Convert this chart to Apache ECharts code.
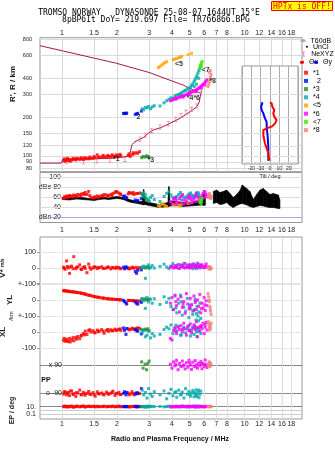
<!DOCTYPE html>
<html><head><meta charset="utf-8">
<script src="https://cdn.jsdelivr.net/npm/echarts@6.0.0/dist/echarts.min.js"></script>
<style>html,body{margin:0;padding:0;background:#fff}#c{width:335px;height:451px}</style>
</head><body><div id="c"></div>
<script>
// ---------- tick values / labels ----------
const freqTicks = [1,1.5,2,3,4,5,6,7,8,10,12,14,16,18];
const freqLabels = ['1','1.5','2','3','4','5','6','7','8','10','12','14','16','18'];
const heightTicks = [80,90,100,120,150,200,300,400,600,800];
const dbeTicks = [20,40,60,80,100];
const dbeLabels = ['dBn 20','40','60','dBe 80','100'];

// ---------- top panel lines ----------
const profF = [0.758,0.90,0.99,1.01,1.42,1.90,2.27,2.36,2.41,2.51,2.79,2.97,3.16,3.44,3.74,4.43,5.02,5.46,5.62,5.72,5.80];
const profR = [88,88,88,94,95,96,99,105,122,129,139,150,159,165,174,196,220,240,258,290,322];
const fxF = [0.758,1.016,1.51,1.99,3.03,3.87,4.60,5.13,5.46,5.69];
const fxR = [716,651,572,523,442,388,355,329,315,308];
const nexF = [1.06,1.31,1.55,1.83,2.21,2.67,2.85,3.10,3.44,3.82,4.20,4.48,4.77,5.12,5.46];
const nexR = [90,90,92,93,94,135,145,157,168,178,193,206,218,230,244];

// ---------- unclassified amplitude band (dBe panel) ----------
const noiseF = [1.00,1.10,1.20,1.30,1.40,1.50,1.60,1.70,1.80,1.90,2.00,2.10,2.20,2.30,2.40,2.50,2.60,2.75,2.80,2.84,3.00,3.20,3.40,3.60,3.80,3.85,3.90,4.20,4.60,5.00,5.40,5.80,6.00,6.10,6.25,6.73,7.03,7.32,7.64,7.97,8.31,8.66,9.04,9.43,9.70,10.26,10.69,11.15,11.63,12.13,12.65,13.19,13.76,14.34,15.28,15.60];
const noiseLo = [56,55,57,56,55,54,56,57,56,57,58,57,55,52,50,49,48,46,45,46,44,42,40,41,42,42,43,44,42,43,44,45,44,45,null,48,50,46,47,50,44,40,44,47,48,45,42,40,42,44,43,41,40,40,38,38];
const noiseHi = [60,59,61,60,58,58,60,61,59,61,62,61,59,57,55,54,53,52,76,52,50,48,46,48,50,82,52,52,50,51,52,53,74,58,null,72,75,70,72,75,68,60,66,74,85,78,72,56,66,75,78,72,66,68,65,55];

// ---------- echoes: [f MHz, R' km, dB, V* m/s, YL km, XL km, PP deg, EP deg] ----------
const echo1 = [
[1.02,92,58,5,58,-52,-95,10],[1.03,95,61,-2,60,-40,-82,13],[1.04,91,61,-8,56,-58,-80,14],[1.06,93,63,45,57,-45,-100,8],
[1.07,96,60,10,54,-55,-90,11],[1.08,92,62,0,55,-60,-85,12],[1.10,94,64,-34,54,-40,-105,9],[1.11,91,62,6,52,-62,-76,12],
[1.13,93,63,12,52,-48,-75,15],[1.15,96,61,-4,50,-35,-98,10],[1.16,94,65,72,51,-55,-92,7],[1.19,93,64,-5,49,-35,-110,11],
[1.20,96,62,3,47,-45,-86,14],[1.22,95,66,8,47,-28,-88,13],[1.25,94,65,20,45,-42,-70,9],[1.27,97,63,-6,43,-25,-100,12],
[1.28,95,67,-10,42,-20,-98,12],[1.31,94,68,3,40,-10,-84,16],[1.33,97,66,9,38,-18,-94,10],[1.34,95,70,-3,36,5,-102,8],
[1.37,96,66,-30,33,-15,-90,11],[1.40,95,72,25,30,10,-78,14],[1.42,98,64,4,29,14,-96,12],[1.44,96,60,-8,27,0,-96,10],
[1.48,96,59,0,24,8,-86,12],[1.50,99,61,7,22,-4,-100,13],[1.52,97,61,6,20,-5,-108,9],[1.56,102,63,-4,18,12,-80,13],
[1.58,97,60,3,17,2,-92,10],[1.60,98,62,2,16,6,-94,11],[1.65,98,64,8,13,15,-88,10],[1.68,101,62,-2,12,5,-96,12],
[1.70,99,66,-3,11,-8,-100,14],[1.75,98,65,0,9,10,-82,9],[1.78,101,63,6,8,16,-92,11],[1.80,99,64,5,7,4,-96,12],
[1.85,99,66,-6,6,14,-90,10],[1.88,102,64,2,5,9,-84,13],[1.90,100,68,3,5,8,-76,13],[1.95,99,70,-2,4,18,-104,9],
[1.98,102,72,5,3,10,-90,11],[2.00,100,71,0,3,12,-92,11],[2.05,101,69,4,2,16,-84,15],[2.08,103,67,-3,1,20,-98,10],
[2.10,100,66,-5,1,10,-98,10],[2.30,101,67,2,-2,20,-88,12],[2.33,104,70,-6,-3,14,-100,9],[2.36,99,69,-3,-3,15,-94,9],
[2.42,102,68,6,-4,24,-80,11],[2.45,106,70,0,-4,19,-92,12],[2.48,104,66,0,-5,18,-100,13],[2.55,106,68,4,-5,22,-90,10],
[2.60,105,68,-4,-6,26,-86,10],[2.66,108,69,3,-7,22,-92,12]
];
const echo2 = [
[2.17,214,62,5,-2,25,-90,10],[2.20,213,63,-5,-10,10,-80,12],[2.24,215,60,8,-18,-15,-100,9],[2.26,214,59,0,-25,22,-85,11],
[2.52,210,55,-22,-12,15,-95,10],[2.56,212,52,-34,-20,8,-88,13],[2.60,214,54,-15,-26,5,-92,9],[2.72,223,58,-12,-15,-12,-60,11]
];
const echo3 = [
[2.73,97,68,2,5,15,110,10],[2.78,99,66,6,2,10,70,12],[2.85,98,60,0,8,18,95,9],
[2.90,100,56,4,0,12,60,11],[2.95,99,54,8,3,20,100,10],[3.00,98,52,-2,6,8,115,13]
];
const echo4 = [
[2.75,232,62,5,10,-5,-70,10],[2.80,228,70,12,-5,12,-100,12],[2.86,238,66,-66,-52,-30,-85,8],[2.92,236,58,8,15,-20,-120,14],
[2.98,242,54,20,-12,5,-60,9],[3.05,232,60,3,5,-37,-95,11],[3.12,240,64,15,-20,-10,-110,13],[3.20,245,56,0,8,-25,-80,10],
[3.44,244,52,10,-28,-15,-100,12],[3.62,258,62,25,20,15,-75,9],[3.74,268,68,6,-15,30,-125,11],[3.85,275,72,-4,10,20,-90,14],
[3.95,282,65,12,-40,44,-65,8],[4.05,280,60,28,-60,-10,-105,12],[4.15,292,58,4,25,25,-85,10],[4.25,297,62,15,-80,5,-115,13],
[4.35,300,66,-2,-20,35,-70,9],[4.45,305,70,20,30,-20,-100,11],[4.55,312,64,8,-95,15,-82,15],[4.65,318,61,30,-45,30,-120,10],
[4.75,322,59,0,-70,-5,-60,12],[4.85,330,63,12,10,20,-95,9],[4.95,336,67,22,-110,40,-78,13],[5.05,340,69,5,-55,-25,-108,10],
[5.12,352,65,18,-30,10,-88,12],[5.20,362,62,-5,-90,28,-72,11],[5.28,375,60,26,-65,-15,-112,14],[5.35,390,64,10,5,35,-92,9],
[5.42,405,68,2,-125,18,-68,12],[5.48,420,70,16,-40,-28,-102,10],[5.55,440,66,8,-100,22,-84,13],[5.62,460,63,24,-75,5,-118,11],
[5.69,478,60,0,-20,30,-96,9],[5.75,495,58,12,-115,-10,-76,12],[5.00,320,57,14,-35,12,-98,10],[5.30,345,61,20,-60,38,-86,11],
[5.45,360,65,-3,-85,0,-110,14],[5.60,400,69,10,-130,25,-70,9],[4.50,295,55,18,-10,-18,-95,12],[4.20,282,59,6,-50,42,-80,10]
];
const echo6 = [
[3.92,268,52,5,-20,-40,95,10],[4.00,271,48,10,15,-50,70,12],[4.08,274,56,0,-60,10,110,9],[4.16,278,60,15,30,25,85,11],
[4.24,280,54,4,-35,-10,120,13],[4.32,283,50,22,5,30,60,10],[4.40,286,58,-3,-75,15,100,12],[4.48,288,62,8,20,40,80,9],
[4.56,290,66,12,-45,0,115,14],[4.64,293,55,2,-10,55,90,11],[4.72,296,49,28,-83,20,65,10],[4.80,300,53,6,40,-20,105,12],
[4.88,303,59,14,-25,35,75,9],[4.96,307,64,0,-55,10,120,13],[5.04,310,60,18,10,50,88,11],[5.12,313,56,5,-30,-5,62,10],
[5.20,316,51,24,-70,25,108,12],[5.28,319,57,9,25,45,82,14],[5.36,322,63,2,-15,15,118,9],[5.44,325,67,16,-60,64,92,11],
[5.52,330,61,30,0,-30,70,10],[5.60,335,55,7,-40,30,102,12],[5.68,340,50,13,35,5,86,13],[5.76,346,58,4,-80,40,112,10],
[5.84,352,64,20,-20,20,66,11],[5.92,358,68,8,-50,55,98,9],[6.00,365,72,1,15,-10,80,12],[6.08,374,70,11,-65,30,122,10],
[6.16,382,66,25,-5,60,90,13],[6.22,390,62,5,-35,12,74,11],[4.20,276,47,6,-10,5,96,10],[4.60,286,46,15,-25,20,84,12],
[5.00,300,48,3,-45,8,104,11],[5.40,315,52,10,-5,28,78,9],[5.80,335,54,18,-55,35,100,12],[6.05,355,60,7,-30,45,94,10]
];
const echo8 = [
[6.30,345,60,3,40,50,95,10],[6.35,360,62,-5,20,64,85,12],[6.40,375,66,8,-10,30,105,9],[6.45,390,64,0,-40,45,80,11],
[6.50,410,58,5,-70,20,100,13],[6.55,430,62,-3,-90,55,90,10],[6.40,445,68,6,0,12,110,12],[6.48,460,60,-8,-55,35,88,11]
];
// echoes without drift data: [f MHz, R' km, dB]
const echo5 = [
[3.37,484,44],[3.44,495,42],[3.52,507,46],[3.59,518,48],[3.66,530,44],[3.74,538,42],[4.06,558,46],
[4.15,565,44],[4.25,570,48],[4.35,578,45],[4.45,584,43],[4.52,590,47],[4.90,610,48],[5.12,625,50]
];
const echo7 = [[5.69,480,50],[5.72,495,54],[5.75,510,56],[5.80,525,52],[5.85,540,58],[5.78,500,48]];

// ---------- class annotations in the height panel ----------
const labF = [1.90,2.56,2.94,4.82,4.15,5.82,6.41];
const labR = [94,200,93,280,518,464,384];
const labT = ['*1','2','*3','*4*6','<5','<7','*8'];

// ---------- tilt inset ----------
const thxT = [-0.7,-1.8,-3.6,-5.4,-7.1,-7.1,-3.6,1.8,5.4,7.1,4.6,3.5,4.6,2.5,1.8,0];
const thxH = [92,105,115,125,145,159,164,169,179,190,202,214,227,241,256,261];
const thyT = [-1.8,-1.8,-2.5,-3.6,-3.6,-5.4,-7.1,-8.9,-9.6,-8.3,-8.9];
const thyH = [92,118,141,169,184,196,214,227,241,256,261];

// ---------- styling ----------
const FMIN = 0.758, FMAX = 20.6;
const CLS = [
  {name:'*1', color:'#ff0000', rows:echo1, drift:true},
  {name:'2',  color:'#0000ff', rows:echo2, drift:true},
  {name:'*3', color:'#238b23', rows:echo3, drift:true},
  {name:'*4', color:'#00a9a9', rows:echo4, drift:true},
  {name:'<5', color:'#ffa500', rows:echo5, drift:false},
  {name:'*6', color:'#ff00ff', rows:echo6, drift:true},
  {name:'<7', color:'#33ee00', rows:echo7, drift:false},
  {name:'*8', color:'#f08080', rows:echo8, drift:true}
];
const FONT = 'Liberation Sans';
const lt = {fontSize:7, color:'#000', lineHeight:7, fontFamily:FONT};

function fAxis(i){ return {type:'log', logBase:10, gridIndex:i, min:FMIN, max:FMAX, show:false}; }
function pts(rows, col){ return rows.map(r => [r[0], r[col]]); }
function sc(c, gi, data){
  return {type:'scatter', name:c.name, xAxisIndex:gi, yAxisIndex:gi, data:data, symbol:'rect', symbolSize:3,
          itemStyle:{color:c.color}, z:3, silent:true, clip:false, animation:false};
}
const baseGrid = {left:40, width:262, outerBoundsMode:'none'};

const series = [];
// top panel grid lines + tick labels
series.push({type:'scatter', xAxisIndex:0, yAxisIndex:0, data:[], silent:true,
  markLine:{z:1, silent:true, symbol:'none', animation:false,
    lineStyle:{color:'#d9d9d9', width:1, type:'solid'},
    label:{show:true, formatter:'{b}', fontSize:7, color:'#222', distance:1, fontFamily:FONT},
    data: freqTicks.map((v,i)=>({xAxis:v, name:freqLabels[i], label:{position:'end'}}))
      .concat(heightTicks.map(v=>({yAxis:v, name:String(v), label:{position:'start', fontSize:5.5, distance:8}})))}});
series.push({type:'line', name:'T60dB', xAxisIndex:0, yAxisIndex:0, data:[], symbol:'none', lineStyle:{color:'#aaaaaa', width:1}, itemStyle:{color:'#aaaaaa'}});
series.push({type:'line', xAxisIndex:0, yAxisIndex:0, data:fxF.map((f,i)=>[f,fxR[i]]), symbol:'none', silent:true, z:2, lineStyle:{color:'#a8154a', width:1}});
series.push({type:'line', xAxisIndex:0, yAxisIndex:0, data:profF.map((f,i)=>[f,profR[i]]), symbol:'none', silent:true, z:2, lineStyle:{color:'#a8154a', width:1}});
series.push({type:'scatter', name:'NeXYZ', xAxisIndex:0, yAxisIndex:0, data:nexF.map((f,i)=>[f,nexR[i]]), silent:true, z:2,
  symbol:'path://M0,0H4V1H2.5V5H4V6H0V5H1.5V1H0Z', symbolSize:[3,5], itemStyle:{color:'#f0608f'}});

// dBe panel guides
series.push({type:'scatter', xAxisIndex:1, yAxisIndex:1, data:[], silent:true,
  markLine:{z:1, silent:true, symbol:'none', animation:false,
    lineStyle:{color:'#dddddd', width:1, type:'solid'},
    label:{show:false},
    data: dbeTicks.map(v=>({yAxis:v, lineStyle:{color: v===20 ? '#aaaadd' : '#dddddd'}}))
      .concat(freqTicks.map((v,i)=>({xAxis:v, name:freqLabels[i], lineStyle:{color:'rgba(0,0,0,0)'},
        label:{show:true, position:'start', formatter:'{b}', distance:4, fontSize:7, color:'#222', fontFamily:FONT}})))}});
series.push({type:'custom', name:'UnCl', xAxisIndex:1, yAxisIndex:1, silent:true, z:2, itemStyle:{color:'#000'},
  data: noiseF.map((f,i)=>[f, noiseLo[i], noiseHi[i]]),
  renderItem: function(params, api){
    const i = params.dataIndex;
    if (i >= noiseF.length-1 || noiseLo[i]==null || noiseLo[i+1]==null) return null;
    const p = [api.coord([noiseF[i], noiseLo[i]]), api.coord([noiseF[i+1], noiseLo[i+1]]),
               api.coord([noiseF[i+1], noiseHi[i+1]]), api.coord([noiseF[i], noiseHi[i]])];
    return {type:'polygon', shape:{points:p}, style:{fill:'#000', stroke:'#000', lineWidth:0.6}};
  }});

// lower panel guides
series.push({type:'scatter', xAxisIndex:2, yAxisIndex:2, data:[], silent:true,
  markLine:{z:1, silent:true, symbol:'none', animation:false,
    lineStyle:{color:'#dddddd', width:1, type:'solid'},
    label:{show:true, position:'start', formatter:'{b}', distance:2, fontSize:7, color:'#222', fontFamily:FONT},
    data: freqTicks.map((v,i)=>({xAxis:v, name:freqLabels[i]}))}});

// echo classes
CLS.forEach(c => {
  series.push(sc(c, 0, pts(c.rows,1)));
  series.push(sc(c, 1, pts(c.rows,2)));
  if (c.drift){
    series.push(sc(c, 3, pts(c.rows,3)));
    series.push(sc(c, 4, pts(c.rows,4)));
    series.push(sc(c, 5, pts(c.rows,5)));
    series.push(sc(c, 6, pts(c.rows,6)));
    series.push(sc(c, 7, pts(c.rows,7)));
  }
});
// class annotations
series.push({type:'scatter', xAxisIndex:0, yAxisIndex:0, silent:true, z:4, symbolSize:0,
  data: labF.map((f,i)=>({value:[f,labR[i]], name:labT[i]})),
  label:{show:true, formatter:'{b}', position:'right', distance:0, fontSize:7, fontWeight:'bold', color:'#000', fontFamily:FONT}});

// tilt inset
series.push({type:'line', xAxisIndex:8, yAxisIndex:8, data:[], silent:true,
  markLine:{z:7, silent:true, symbol:'none', animation:false, label:{show:false},
    lineStyle:{color:'#dddddd', width:1, type:'solid'},
    data: heightTicks.filter(v => v>=90 && v<=450).map(v=>({yAxis:v}))}});
series.push({type:'line', name:'Θy', xAxisIndex:8, yAxisIndex:8, data:thyT.map((t,i)=>[t,thyH[i]]), symbol:'none', z:10, silent:true,
  lineStyle:{color:'#0000ff', width:2}, itemStyle:{color:'#0000ff'}});
series.push({type:'line', name:'Θx', xAxisIndex:8, yAxisIndex:8, data:thxT.map((t,i)=>[t,thxH[i]]), symbol:'none', z:10, silent:true,
  lineStyle:{color:'#ff0000', width:2}, itemStyle:{color:'#ff0000'}});

const driftAxis = (gi, fmt, name) => ({type:'value', gridIndex:gi, min:-100, max:100, interval:100,
  axisLine:{show:false}, axisTick:{show:true, length:3, lineStyle:{color:'#999'}},
  splitLine:{show:true, lineStyle:{color:'#e4e4e4'}},
  axisLabel:{fontSize:7, color:'#222', margin:4, fontFamily:FONT, formatter:fmt},
  name:name, nameLocation:'middle', nameGap:26,
  nameTextStyle:{fontSize:8, fontWeight:'bold', color:'#222', fontFamily:FONT,
    rich:{a:{fontSize:8, fontWeight:'bold', color:'#222'}, b:{fontSize:5, color:'#222'}}}});

const option = {
  animation:false,
  backgroundColor:'#fff',
  textStyle:{fontFamily:FONT},
  title:[{text:'HPTx is OFF!', left:271, top:1, padding:[1,2,0,2], backgroundColor:'#ffff00', borderColor:'#ff0000', borderWidth:1,
    textStyle:{fontSize:8, fontFamily:'DejaVu Sans Mono', fontWeight:'normal', color:'#ff0000', lineHeight:9}}],
  graphic:[
    {type:'text', x:149, y:12.7, style:{text:'TROMSO NORWAY   DYNASONDE 25-08-07 1644UT 15°E', fontSize:8, fontFamily:'DejaVu Sans Mono', fill:'#000', align:'center', verticalAlign:'middle'}},
    {type:'text', x:156, y:20, style:{text:'8pBP6It DoY= 219.697 File= TR766866.BPG', fontSize:8, fontFamily:'DejaVu Sans Mono', fill:'#000', align:'center', verticalAlign:'middle'}},
    {type:'text', x:13, y:84, rotation:Math.PI/2, style:{text:"R', R / km", fontSize:8, fontWeight:'bold', fontFamily:FONT, fill:'#111', align:'center', verticalAlign:'middle'}},
    {type:'text', x:11, y:316, rotation:Math.PI/2, style:{text:'/km', fontSize:6, fontFamily:FONT, fill:'#222', align:'center', verticalAlign:'middle'}},
    {type:'text', x:46, y:380, style:{text:'PP', fontSize:7, fontWeight:'bold', fontFamily:FONT, fill:'#111', align:'center', verticalAlign:'middle'}},
    {type:'text', x:170, y:439, style:{text:'Radio and Plasma Frequency / MHz', fontSize:7, fontWeight:'bold', fontFamily:FONT, fill:'#111', align:'center', verticalAlign:'middle'}}
  ],
  legend:[
    {data:['T60dB'], left:299.5, top:37.2, padding:0, itemWidth:5, itemHeight:4, selectedMode:false, textStyle:lt},
    {data:[{name:'UnCl', icon:'circle'}], left:306, top:43.2, padding:0, itemWidth:2, itemHeight:2, selectedMode:false, textStyle:lt},
    {data:['NeXYZ'], left:302, top:50.5, padding:0, itemWidth:5, itemHeight:5, selectedMode:false, textStyle:lt},
    {data:['Θx'], left:299, top:58.8, padding:0, itemWidth:4, itemHeight:4, selectedMode:false, textStyle:lt},
    {data:['Θy'], left:313, top:58.8, padding:0, itemWidth:4, itemHeight:4, selectedMode:false, textStyle:lt},
    {data:CLS.map(c=>c.name), orient:'vertical', left:304, top:69.2, padding:0, itemWidth:4, itemHeight:4, itemGap:1.2, selectedMode:false,
      textStyle:lt, formatter: n => n === '2' ? '  2' : n}
  ],
  grid:[
    Object.assign({}, baseGrid, {top:37.7, height:134, show:true, borderColor:'#999', borderWidth:1}),
    Object.assign({}, baseGrid, {top:172.5, height:50, show:true, borderColor:'#999', borderWidth:1}),
    Object.assign({}, baseGrid, {top:237, height:182, show:true, borderColor:'#999', borderWidth:1}),
    Object.assign({}, baseGrid, {top:252.3, height:31.4}),
    Object.assign({}, baseGrid, {top:284, height:32}),
    Object.assign({}, baseGrid, {top:316, height:32}),
    Object.assign({}, baseGrid, {top:365, height:28.3}),
    Object.assign({}, baseGrid, {top:406.7, height:7.6}),
    {left:242, top:66, width:56, height:98, show:true, backgroundColor:'#fff', borderColor:'#999', borderWidth:1, z:5, outerBoundsMode:'none'}
  ],
  xAxis:[fAxis(0),fAxis(1),fAxis(2),fAxis(3),fAxis(4),fAxis(5),fAxis(6),fAxis(7),
    {type:'value', gridIndex:8, min:-30, max:30, interval:10, z:6,
     axisLine:{show:false}, axisTick:{show:false},
     splitLine:{show:true, lineStyle:{color:'#aaaaaa'}},
     axisLabel:{fontSize:5, margin:2, color:'#222', fontFamily:FONT, formatter: v => Math.abs(v) === 30 ? '' : String(v)},
     name:'Tilt / deg', nameLocation:'middle', nameGap:9, nameTextStyle:{fontSize:5.5, color:'#222', fontFamily:FONT}}],
  yAxis:[
    {type:'log', logBase:10, gridIndex:0, min:75.5, max:826, show:false},
    {type:'value', gridIndex:1, min:10, max:110, interval:10, axisLine:{show:false}, axisTick:{show:false}, splitLine:{show:false},
     axisLabel:{inside:true, align:'right', margin:21, fontSize:7, color:'#222', fontFamily:FONT,
       formatter: v => { const k = dbeTicks.indexOf(v); return k < 0 ? '' : dbeLabels[k]; }}},
    {type:'value', gridIndex:2, min:0, max:1, show:false},
    driftAxis(3, v => v === -100 ? '+-100' : String(v), '{a|V*} {b|m/s}'),
    driftAxis(4, v => v === 0 ? '0' : '', 'YL'),
    driftAxis(5, v => v === 100 ? '+-100' : String(v), 'XL'),
    {type:'value', gridIndex:6, min:-90, max:90, interval:180, axisLine:{show:false}, axisTick:{show:false},
     splitLine:{show:true, lineStyle:{color:'#888'}},
     axisLabel:{inside:true, align:'right', margin:22, fontSize:7, color:'#222', fontFamily:FONT, formatter: v => v > 0 ? 'x 90' : 'o -90'}},
    {type:'log', logBase:10, gridIndex:7, min:0.1, max:10, axisLine:{show:false}, axisTick:{show:false},
     splitLine:{show:true, lineStyle:{color:['#cccccc','#cccccc','#888888']}},
     axisLabel:{fontSize:7, color:'#222', margin:4, fontFamily:FONT, formatter: v => v > 5 ? '10.' : (v < 0.5 ? '0.1' : '')},
     name:'EP / deg', nameLocation:'middle', nameGap:22, nameTextStyle:{fontSize:7, fontWeight:'bold', color:'#222', fontFamily:FONT}},
    {type:'log', logBase:10, gridIndex:8, min:86.7, max:499, show:false}
  ],
  series:series
};
const chart = echarts.init(document.getElementById('c'), null, {renderer:'canvas'});
chart.setOption(option);
</script></body></html>
